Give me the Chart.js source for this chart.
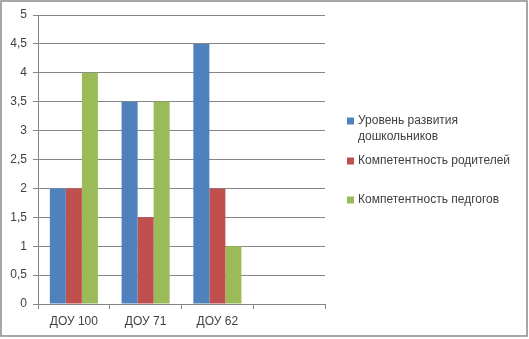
<!DOCTYPE html>
<html>
<head>
<meta charset="utf-8">
<script src="https://cdn.jsdelivr.net/npm/chart.js@4"></script>
<style>
  html, body { margin: 0; padding: 0; background: #fff; }
  #wrap { width: 529px; height: 339px; position: relative; }
</style>
</head>
<body>
<div id="wrap"><canvas id="c" width="529" height="339"></canvas></div>
<script>
// Categories along the x axis (the last slot is left empty)
const categories = ['ДОУ 100', 'ДОУ 71', 'ДОУ 62', ''];

// Series names and values
const seriesNames = [
  ['Уровень развития', 'дошкольников'],
  ['Компетентность родителей'],
  ['Компетентность педгогов']
];
const levelValues = [2, 3.5, 4.5, null];
const parentsValues = [2, 1.5, 2, null];
const teachersValues = [4, 3.5, 1, null];

const seriesColors = ['#4F81BD', '#C0504D', '#9BBB59'];
const textColor = '#404040';
const fontFamily = '"Liberation Sans", Arial, sans-serif';

// Legend rows: vertical centre of each entry's first line
const legendRowY = [121, 161, 200];

const frameAndLegend = {
  id: 'frameAndLegend',
  afterDraw(chart) {
    const ctx = chart.ctx;
    ctx.save();
    // outer frame
    ctx.strokeStyle = '#8a8a8a';
    ctx.lineWidth = 1.5;
    ctx.strokeRect(1, 1, 526, 335);
    // legend
    ctx.font = '12px ' + fontFamily;
    ctx.textBaseline = 'middle';
    ctx.textAlign = 'left';
    chart.data.datasets.forEach((ds, i) => {
      const y = legendRowY[i];
      ctx.fillStyle = ds.backgroundColor;
      ctx.fillRect(347, y - 3.5, 7, 7);
      ctx.fillStyle = textColor;
      ds.label.forEach((line, j) => {
        ctx.fillText(line, 358, y + j * 16);
      });
    });
    ctx.restore();
  }
};

new Chart(document.getElementById('c'), {
  type: 'bar',
  data: {
    labels: categories,
    datasets: [
      { label: seriesNames[0], data: levelValues, backgroundColor: seriesColors[0] },
      { label: seriesNames[1], data: parentsValues, backgroundColor: seriesColors[1] },
      { label: seriesNames[2], data: teachersValues, backgroundColor: seriesColors[2] }
    ]
  },
  options: {
    responsive: false,
    animation: false,
    devicePixelRatio: 1,
    layout: { padding: { top: 15, left: 0, right: 204, bottom: 0 } },
    datasets: { bar: { categoryPercentage: 0.67, barPercentage: 1.0 } },
    plugins: {
      legend: { display: false },
      tooltip: { enabled: false }
    },
    scales: {
      x: {
        afterFit(scale) { scale.height = 35; },
        grid: {
          offset: true,
          drawOnChartArea: false,
          drawTicks: true,
          tickLength: 5,
          color: '#868686'
        },
        border: { display: true, color: '#868686', width: 1 },
        ticks: {
          color: textColor,
          font: { family: fontFamily, size: 12 },
          padding: 5,
          maxRotation: 0,
          autoSkip: false
        }
      },
      y: {
        min: 0,
        max: 5,
        afterFit(scale) { scale.width = 38; },
        grid: {
          color: '#868686',
          tickLength: 5,
          drawTicks: true
        },
        border: { display: true, color: '#868686', width: 1 },
        ticks: {
          stepSize: 0.5,
          color: textColor,
          font: { family: fontFamily, size: 12 },
          padding: 6,
          callback: (v) => String(v).replace('.', ',')
        }
      }
    }
  },
  plugins: [frameAndLegend]
});
</script>
</body>
</html>
